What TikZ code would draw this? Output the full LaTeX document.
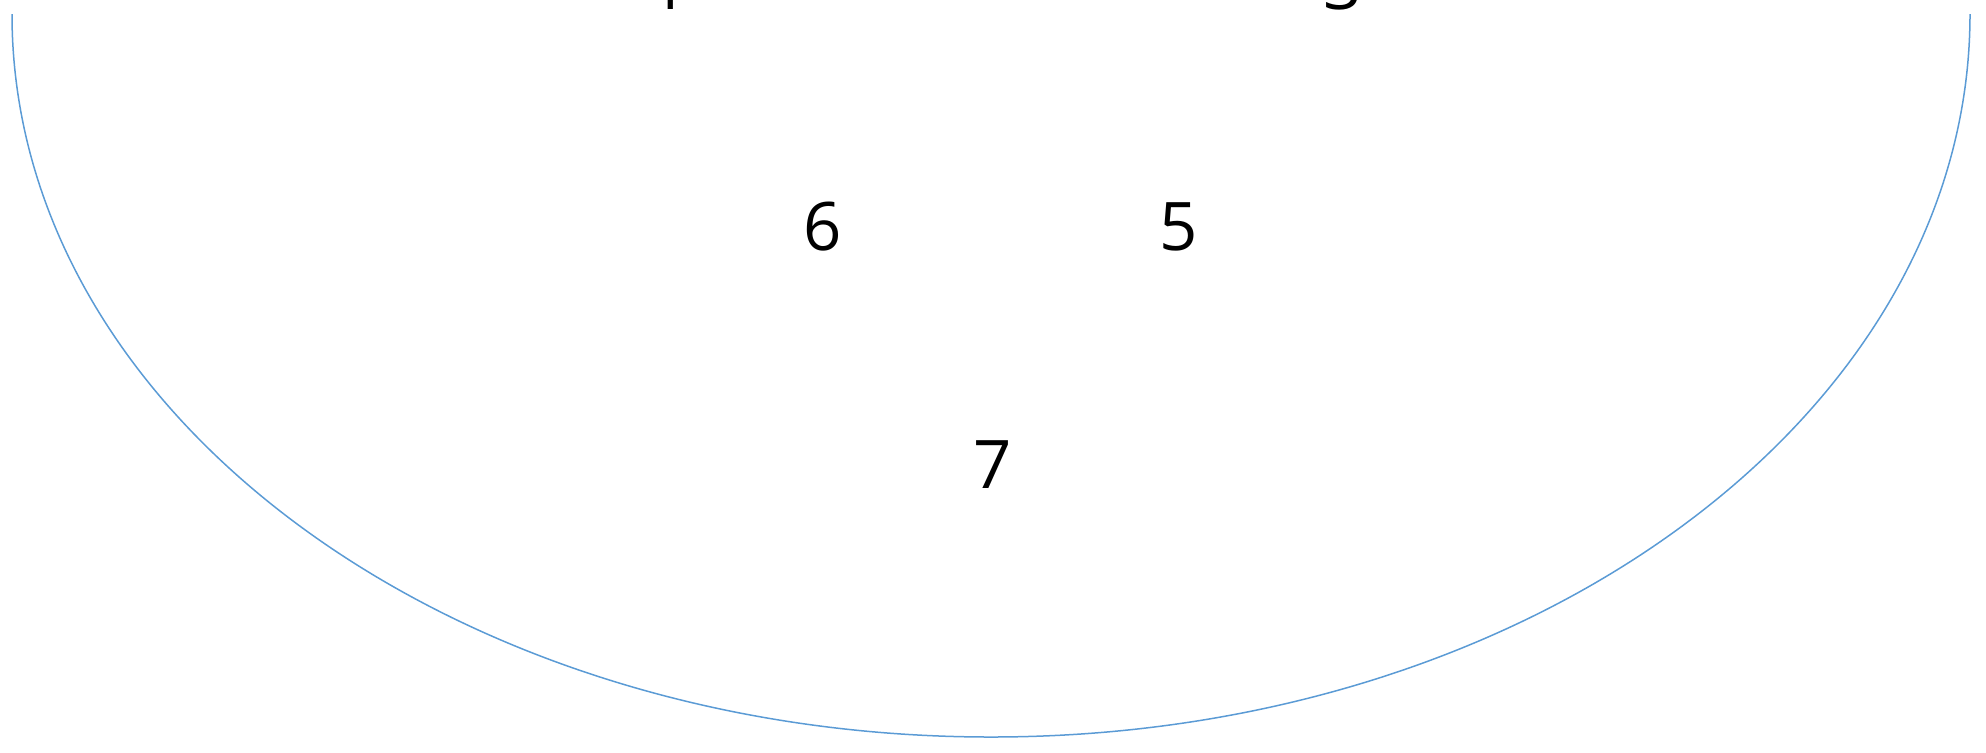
\documentclass[tikz,border=0pt]{standalone}
\usepackage{fontspec}
\setmainfont{Open Sans}
\usetikzlibrary{positioning}

\definecolor{rimblue}{HTML}{5B9BD5}

\begin{document}
\begin{tikzpicture}[
    x=0.5pt, y=-0.5pt,
    rim/.style={draw=rimblue, line width=0.75pt},
    num/.style={anchor=base, inner sep=0pt, font=\fontsize{33.5}{36}\selectfont}
]
\useasboundingbox (0,0) rectangle (1986,752);

\coordinate (west) at (12,14);
\coordinate (east) at (1970,14);

\draw[rim] (west) arc[start angle=180, end angle=0, x radius=979, y radius=723];

\node[num] (n4) at (663,9) {4};
\node[num] (n3) at (1343,9) {3};
\node[num] (n6) at (823,250) {6};
\node[num] (n5) at (1179,250) {5};
\node[num] (n7) at (993,488) {7};

\end{tikzpicture}
\end{document}
